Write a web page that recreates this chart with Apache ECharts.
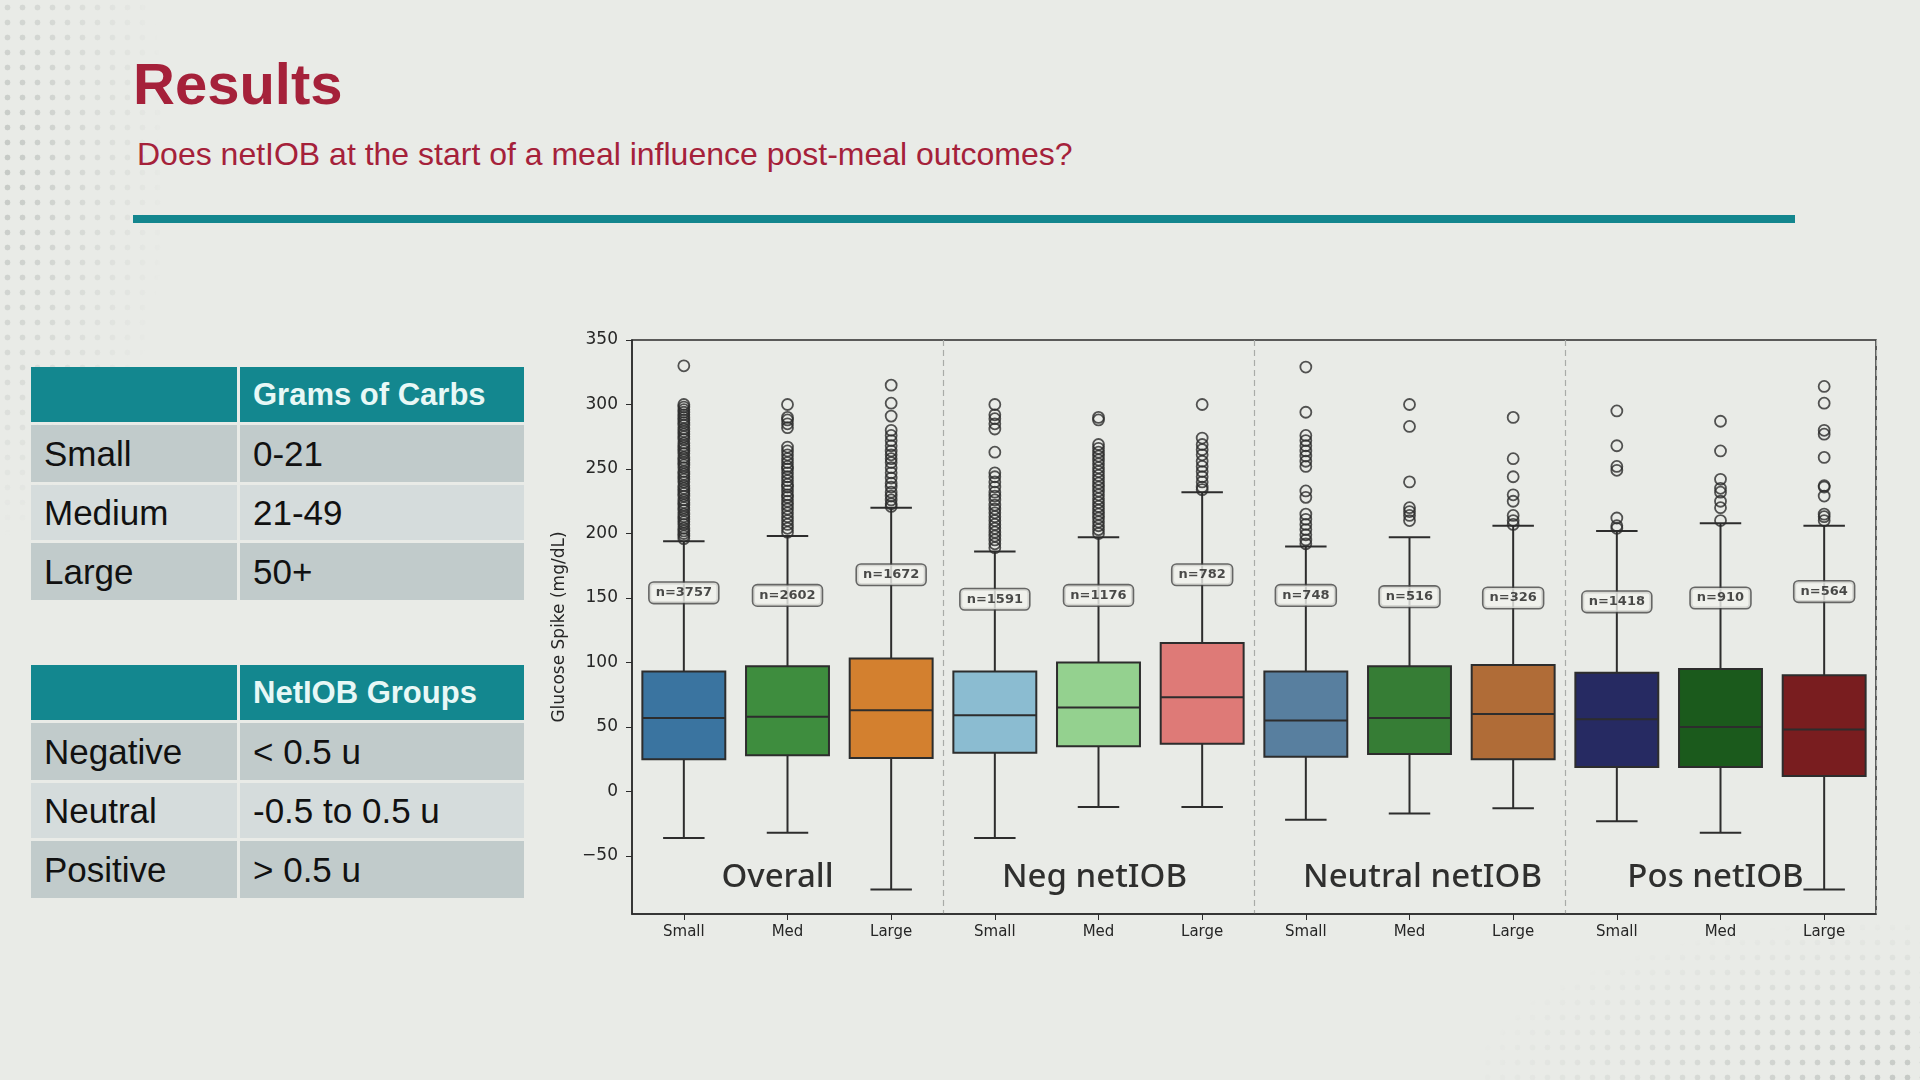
<!DOCTYPE html>
<html>
<head>
<meta charset="utf-8">
<script src="https://cdn.jsdelivr.net/npm/echarts@6/dist/echarts.min.js"></script>
<style>
  html, body { margin: 0; padding: 0; }
  body { width: 1920px; height: 1080px; background: #e9ebe7; position: relative; overflow: hidden; font-family: "Liberation Sans", Arial, sans-serif; }
  .dots { position: absolute; background-image: radial-gradient(circle, #c4c8c4 2.6px, transparent 3.2px); background-size: 15px 15px; }
  #dotsTL { left: 0; top: 0; width: 170px; height: 540px; -webkit-mask-image: radial-gradient(ellipse at 0% 30%, #000 0%, transparent 70%); mask-image: radial-gradient(ellipse at 0% 30%, #000 0%, transparent 70%); }
  #dotsBR { right: 0; bottom: 0; width: 440px; height: 160px; -webkit-mask-image: radial-gradient(ellipse at 100% 100%, #000 0%, transparent 72%); mask-image: radial-gradient(ellipse at 100% 100%, #000 0%, transparent 72%); }
  #title { position: absolute; left: 133px; top: 50px; font-size: 58px; font-weight: bold; color: #a5213a; }
  #subtitle { position: absolute; left: 137px; top: 136px; font-size: 32px; color: #a5213a; }
  #rule { position: absolute; left: 133px; top: 215px; width: 1662px; height: 8px; background: #13868e; }
  .tbl { position: absolute; left: 31px; display: grid; grid-template-columns: 206px 284px; grid-template-rows: 55px 57px 55px 57px; gap: 3px; }
  .tbl div { display: flex; align-items: center; padding-left: 13px; font-size: 35px; color: #111; }
  .tbl .hd { background: #13878f; color: #e8f8f6; font-weight: bold; font-size: 31px; }
  .tbl .dk { background: #c1cbcb; }
  .tbl .lt { background: #d5dcdc; }
  #chart { position: absolute; left: 0; top: 0; width: 1920px; height: 1080px; }
</style>
</head>
<body>
<div class="dots" id="dotsTL"></div>
<div class="dots" id="dotsBR"></div>
<div id="title">Results</div>
<div id="subtitle">Does netIOB at the start of a meal influence post-meal outcomes?</div>
<div id="rule"></div>
<div class="tbl" style="top:367px">
  <div class="hd"></div><div class="hd">Grams of Carbs</div>
  <div class="dk">Small</div><div class="dk">0-21</div>
  <div class="lt">Medium</div><div class="lt">21-49</div>
  <div class="dk">Large</div><div class="dk">50+</div>
</div>
<div class="tbl" style="top:665px">
  <div class="hd"></div><div class="hd">NetIOB Groups</div>
  <div class="dk">Negative</div><div class="dk">&lt; 0.5 u</div>
  <div class="lt">Neutral</div><div class="lt">-0.5 to 0.5 u</div>
  <div class="dk">Positive</div><div class="dk">&gt; 0.5 u</div>
</div>
<div id="chart"></div>
<script>
// boxes, left to right: Overall / Neg / Neutral / Pos, each Small-Med-Large
let categories = ['Small', 'Med', 'Large', 'Small', 'Med', 'Large', 'Small', 'Med', 'Large', 'Small', 'Med', 'Large'];
let groupNames = ['Overall', 'Neg netIOB', 'Neutral netIOB', 'Pos netIOB'];
let yTicks = [-50, 0, 50, 100, 150, 200, 250, 300, 350];

let lowWhisker = [-36, -32, -76, -36, -12, -12, -22, -17, -13, -23, -32, -76];
let q1 = [25, 28, 26, 30, 35, 37, 27, 29, 25, 19, 19, 12];
let median = [57, 58, 63, 59, 65, 73, 55, 57, 60, 56, 50, 48];
let q3 = [93, 97, 103, 93, 100, 115, 93, 97, 98, 92, 95, 90];
let highWhisker = [194, 198, 220, 186, 197, 232, 190, 197, 206, 202, 208, 206];

let sampleCounts = [3757, 2602, 1672, 1591, 1176, 782, 748, 516, 326, 1418, 910, 564];
let countLabelY = [154, 152, 168, 149, 152, 168, 152, 151, 150, 147, 150, 155];

let outliers = [
  [330, 300, 298, 296, 294, 292, 290, 288, 286, 284, 281, 279, 277, 275, 273, 270, 268, 266, 264, 262, 259, 257, 255, 253, 251, 248, 246, 244, 242, 240, 237, 235, 233, 231, 229, 226, 224, 222, 220, 218, 215, 213, 211, 209, 207, 204, 202, 200, 198, 196],
  [300, 290, 288, 285, 282, 267, 264, 261, 258, 255, 252, 250, 247, 244, 241, 238, 236, 233, 230, 228, 225, 222, 219, 216, 213, 210, 207, 204, 201],
  [315, 301, 291, 280, 276, 272, 268, 264, 261, 258, 255, 251, 247, 243, 239, 236, 232, 229, 226, 223, 221],
  [300, 292, 289, 285, 281, 263, 247, 244, 240, 236, 232, 229, 226, 222, 219, 216, 213, 210, 207, 204, 201, 198, 195, 192, 189],
  [290, 288, 269, 266, 263, 260, 257, 254, 251, 248, 245, 242, 239, 236, 233, 230, 227, 224, 221, 218, 215, 212, 209, 206, 203, 200],
  [300, 274, 269, 265, 261, 256, 252, 248, 244, 240, 236, 234],
  [329, 294, 276, 272, 268, 264, 260, 256, 252, 233, 228, 215, 211, 207, 203, 199, 195, 192],
  [300, 283, 240, 220, 217, 214, 210],
  [290, 258, 244, 230, 225, 214, 210, 207],
  [295, 268, 252, 249, 212, 206, 204],
  [287, 264, 242, 235, 232, 225, 220, 210],
  [314, 301, 280, 277, 259, 237, 236, 229, 215, 213, 210]
];

let boxColors = ['#3a74a0', '#3e8d3e', '#d3802f', '#8bbcd1', '#94d18f', '#de7a77',
  '#587f9f', '#367d35', '#b06c37', '#262a62', '#1b5a1c', '#791d1f'];
let groupLabelOffsets = [[-10, 0], [-4, 0], [13, 0], [-5, 0]];

let chartDom = document.getElementById('chart');
let chart = echarts.init(chartDom);
let option;

let boxData = categories.map(function (c, i) {
  return [i, lowWhisker[i], q1[i], median[i], q3[i], highWhisker[i]];
});
let outlierData = [];
outliers.forEach(function (vals, i) {
  vals.forEach(function (v) { outlierData.push([i, v]); });
});
let countData = sampleCounts.map(function (n, i) { return [i, countLabelY[i], n]; });
let groupLabelData = groupNames.map(function (g, k) {
  return { value: [k * 3 + 1, -67, g], label: { offset: groupLabelOffsets[k] } };
});

function renderBox(params, api) {
  let x = api.value(0);
  let pLow = api.coord([x, api.value(1)]);
  let pQ1 = api.coord([x, api.value(2)]);
  let pMed = api.coord([x, api.value(3)]);
  let pQ3 = api.coord([x, api.value(4)]);
  let pHigh = api.coord([x, api.value(5)]);
  let band = api.size([1, 0])[0];
  let half = band * 0.4;
  let cap = band * 0.2;
  let cx = pQ1[0];
  let line = { stroke: '#2d2d2d', lineWidth: 2 };
  return {
    type: 'group',
    children: [
      { type: 'line', shape: { x1: cx, y1: pLow[1], x2: cx, y2: pQ1[1] }, style: line },
      { type: 'line', shape: { x1: cx, y1: pQ3[1], x2: cx, y2: pHigh[1] }, style: line },
      { type: 'line', shape: { x1: cx - cap, y1: pLow[1], x2: cx + cap, y2: pLow[1] }, style: line },
      { type: 'line', shape: { x1: cx - cap, y1: pHigh[1], x2: cx + cap, y2: pHigh[1] }, style: line },
      {
        type: 'rect',
        shape: { x: cx - half, y: pQ3[1], width: half * 2, height: pQ1[1] - pQ3[1] },
        style: { fill: boxColors[x], stroke: '#2d2d2d', lineWidth: 2 }
      },
      { type: 'line', shape: { x1: cx - half, y1: pMed[1], x2: cx + half, y2: pMed[1] }, style: line }
    ]
  };
}

option = {
  animation: false,
  backgroundColor: 'transparent',
  grid: {
    left: 632,
    right: 44,
    top: 340,
    bottom: 166,
    show: true,
    borderColor: '#2b2b2b',
    borderWidth: 1.5,
    backgroundColor: 'transparent'
  },
  xAxis: {
    type: 'category',
    data: categories,
    boundaryGap: true,
    axisLine: { onZero: false, lineStyle: { color: '#2b2b2b', width: 1.5 } },
    axisTick: { show: true, alignWithLabel: true, length: 6, lineStyle: { color: '#2b2b2b' } },
    axisLabel: { interval: 0, margin: 11, fontFamily: 'DejaVu Sans', fontSize: 15, color: '#262626' },
    splitLine: {
      show: true,
      interval: function (index) { return index === 3 || index === 6 || index === 9; },
      lineStyle: { type: [6, 4], color: '#a9aba8', width: 1.2 }
    }
  },
  yAxis: {
    type: 'value',
    min: -95,
    max: 350,
    name: 'Glucose Spike (mg/dL)',
    nameLocation: 'middle',
    nameGap: 64,
    nameTextStyle: { fontFamily: 'DejaVu Sans', fontSize: 17, color: '#262626' },
    axisLine: { show: true, lineStyle: { color: '#2b2b2b', width: 1.5 } },
    axisTick: { show: true, length: 6, customValues: yTicks, lineStyle: { color: '#2b2b2b' } },
    axisLabel: {
      customValues: yTicks,
      margin: 14,
      fontFamily: 'DejaVu Sans',
      fontSize: 17,
      color: '#262626',
      formatter: function (v) { return v < 0 ? '\u2212' + Math.abs(v) : String(v); }
    },
    splitLine: { show: false }
  },
  series: [
    {
      name: 'boxes',
      type: 'custom',
      renderItem: renderBox,
      encode: { x: 0, y: [1, 2, 3, 4, 5] },
      data: boxData,
      z: 2
    },
    {
      name: 'outliers',
      type: 'scatter',
      symbol: 'circle',
      symbolSize: 11,
      itemStyle: { color: 'rgba(0,0,0,0)', borderColor: '#2a2a2a', borderWidth: 1.8 },
      data: outlierData,
      z: 3
    },
    {
      name: 'counts',
      type: 'scatter',
      symbolSize: 0,
      data: countData,
      z: 5,
      label: {
        show: true,
        position: 'inside',
        formatter: function (p) { return 'n=' + p.value[2]; },
        fontFamily: 'DejaVu Sans',
        fontWeight: 'bold',
        fontSize: 13,
        color: '#1e1e1e',
        backgroundColor: '#f1f2ee',
        borderColor: '#454545',
        borderWidth: 1.6,
        borderRadius: 4,
        padding: [4, 6, 3, 6]
      }
    },
    {
      name: 'groups',
      type: 'scatter',
      symbolSize: 0,
      data: groupLabelData,
      z: 6,
      label: {
        show: true,
        position: 'inside',
        formatter: function (p) { return p.value[2]; },
        fontFamily: 'Noto Sans',
        fontWeight: 500,
        fontSize: 33,
        color: '#000'
      }
    }
  ]
};

option && chart.setOption(option);
</script>
</body>
</html>
